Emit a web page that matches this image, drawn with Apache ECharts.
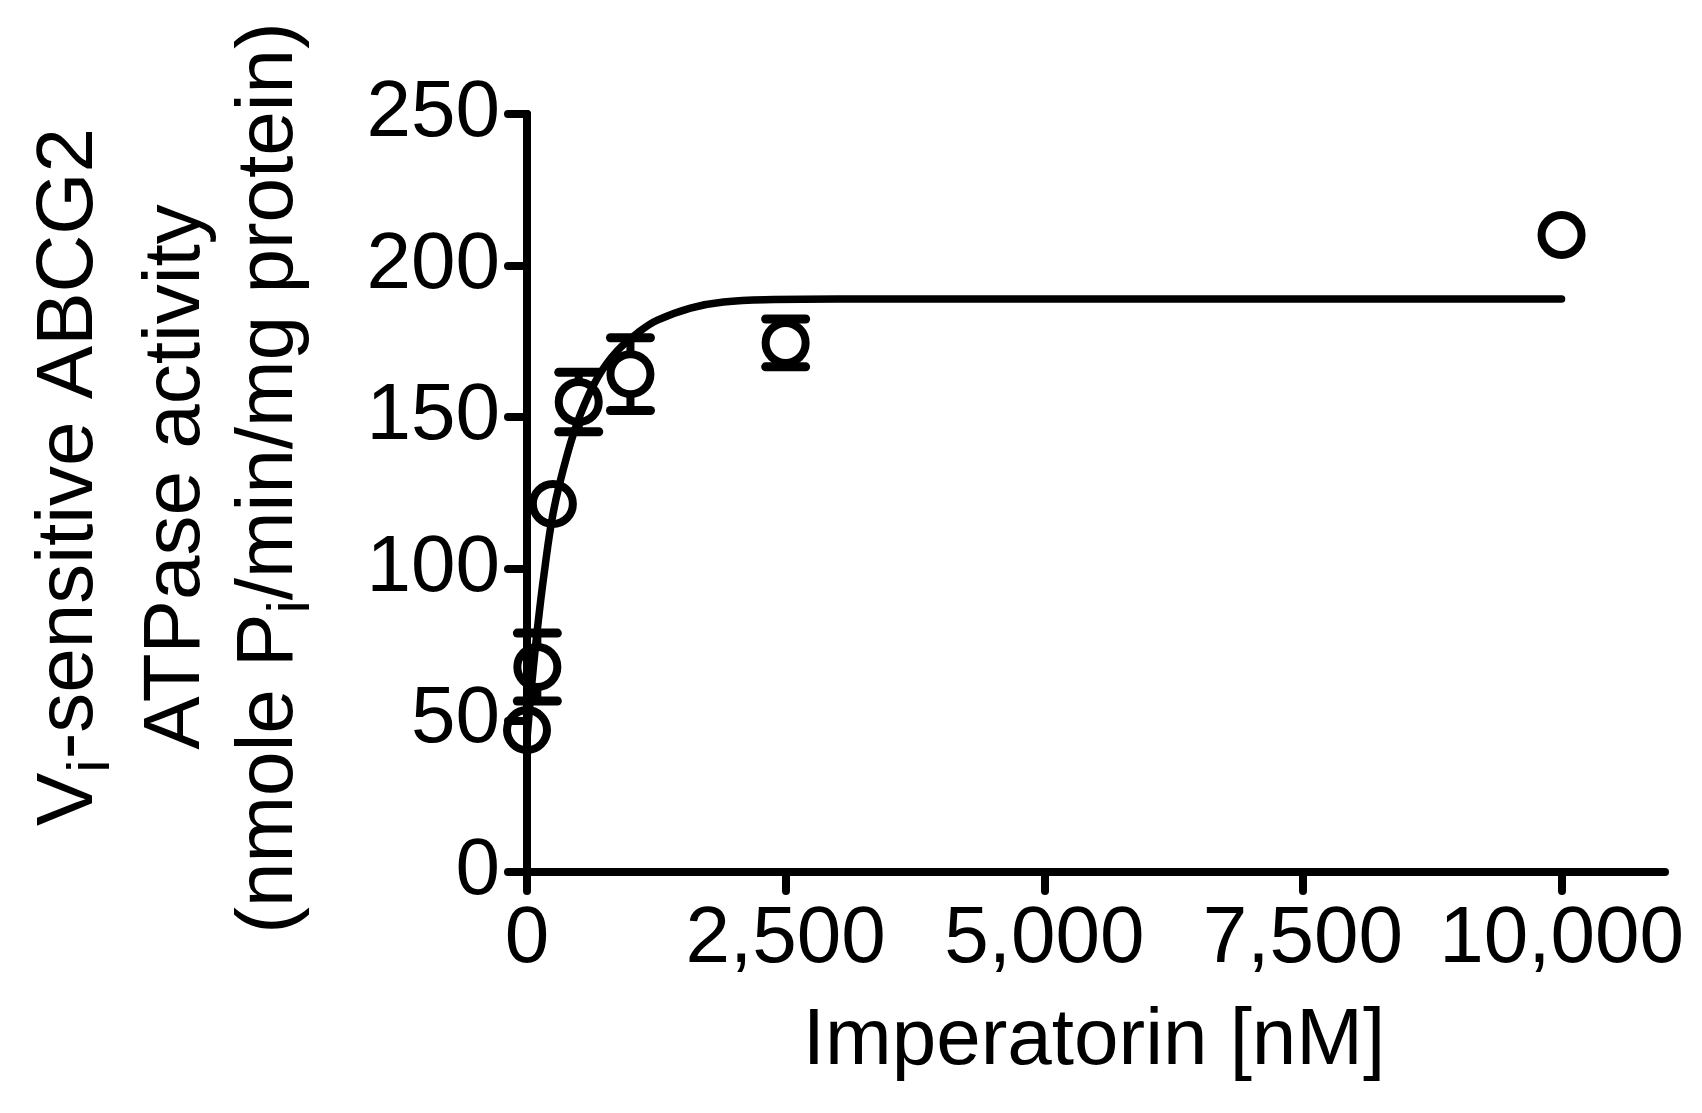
<!DOCTYPE html>
<html>
<head>
<meta charset="utf-8">
<script src="https://cdn.jsdelivr.net/npm/echarts@6/dist/echarts.min.js"></script>
<style>
html,body{margin:0;padding:0;background:#ffffff;}
#chart{width:1702px;height:1113px;}
</style>
</head>
<body>
<div id="chart"></div>
<script>
// ---- data ----
const concentrations = [0, 100, 250, 500, 1000, 2500, 10000];   // Imperatorin [nM]
const activity       = [46.8, 67.6, 121.4, 155.0, 164.2, 174.5, 210.1];
const sem            = [0, 11.2, 0, 9.8, 12.0, 7.9, 0];
// fitted curve
const fitX = [0, 30, 63, 100, 160, 256, 392, 517, 681, 875, 1097, 1261, 1580, 1900, 2384, 3000, 10000];
const fitY = [44, 56, 68, 80, 97, 119, 138, 151, 163, 172, 178.5, 182, 186, 188, 188.8, 189, 189];
const xTicks = [0, 2500, 5000, 7500, 10000];
const yTicks = [0, 50, 100, 150, 200, 250];

const FONT = '"Liberation Sans", Arial, Helvetica, sans-serif';

const points = concentrations.map((x, i) => [x, activity[i]]);
const errData = concentrations.map((x, i) => [x, activity[i], sem[i]]);
const fitData = fitX.map((x, i) => [x, fitY[i]]);

const chart = echarts.init(document.getElementById('chart'), null, {renderer: 'canvas'});

const option = {
  backgroundColor: '#ffffff',
  animation: false,
  grid: {left: 527, right: 37, top: 114, bottom: 241, containLabel: false},
  xAxis: {
    type: 'value',
    min: 0, max: 11000, interval: 2500,
    axisLine: {show: true, lineStyle: {color: '#000', width: 8, cap: 'round'}},
    axisTick: {show: true, length: 19, customValues: xTicks, lineStyle: {color: '#000', width: 8, cap: 'round'}},
    axisLabel: {
      show: true, customValues: xTicks, margin: 28,
      fontSize: 80, fontFamily: FONT, color: '#000',
      formatter: v => (xTicks.indexOf(v) >= 0 ? v.toLocaleString('en-US') : '')
    },
    splitLine: {show: false}
  },
  yAxis: {
    type: 'value',
    min: 0, max: 250, interval: 50,
    axisLine: {show: true, lineStyle: {color: '#000', width: 8, cap: 'round'}},
    axisTick: {show: true, length: 19, lineStyle: {color: '#000', width: 8, cap: 'round'}},
    axisLabel: {
      show: true, margin: 27, fontSize: 80, fontFamily: FONT, color: '#000',
      formatter: v => (yTicks.indexOf(v) >= 0 ? String(v) : '')
    },
    splitLine: {show: false}
  },
  series: [
    {
      type: 'line',
      data: fitData,
      smooth: 0.4,
      showSymbol: false,
      symbol: 'none',
      lineStyle: {color: '#000', width: 7.5, cap: 'round', join: 'round'},
      z: 3
    },
    {
      type: 'custom',
      data: errData,
      renderItem: function (params, api) {
        const x = api.value(0), m = api.value(1), e = api.value(2);
        const c = api.coord([x, m]);
        const top = api.coord([x, m + e]);
        const bot = api.coord([x, m - e]);
        const r = 24, half = 20;
        const st = {stroke: '#000', lineWidth: 8};
        const cs = {stroke: '#000', lineWidth: 9, lineCap: 'round'};
        const children = [];
        if (top[1] < c[1] - r + 2) {
          children.push({type: 'line', shape: {x1: c[0], y1: top[1], x2: c[0], y2: c[1] - r + 2}, style: st});
          children.push({type: 'line', shape: {x1: c[0] - half, y1: top[1], x2: c[0] + half, y2: top[1]}, style: cs});
        }
        if (bot[1] > c[1] + r - 2) {
          children.push({type: 'line', shape: {x1: c[0], y1: c[1] + r - 2, x2: c[0], y2: bot[1]}, style: st});
          children.push({type: 'line', shape: {x1: c[0] - half, y1: bot[1], x2: c[0] + half, y2: bot[1]}, style: cs});
        }
        return {type: 'group', children: children};
      },
      z: 4
    },
    {
      type: 'scatter',
      data: points,
      symbol: 'circle',
      symbolSize: 40,
      itemStyle: {color: 'rgba(0,0,0,0)', borderColor: '#000', borderWidth: 8, opacity: 1},
      z: 5
    }
  ],
  graphic: [
    {
      type: 'text', x: 1094, y: 1042, z: 10,
      style: {text: 'Imperatorin [nM]', fontSize: 80, fontFamily: FONT, fill: '#000', textAlign: 'center', textVerticalAlign: 'middle'}
    },
    {
      type: 'text', x: 70, y: 477, rotation: Math.PI / 2, z: 10,
      style: {
        text: '{n|V}{sub|i}{n|-sensitive ABCG2}',
        fill: '#000', fontSize: 80, fontFamily: FONT,
        textAlign: 'center', textVerticalAlign: 'middle',
        rich: {
          n: {fontSize: 80, lineHeight: 80, fontFamily: FONT, fill: '#000'},
          sub: {fontSize: 60, lineHeight: 60, fontFamily: FONT, fill: '#000', padding: [44, 0, 0, 0]}
        }
      }
    },
    {
      type: 'text', x: 177, y: 477, rotation: Math.PI / 2, z: 10,
      style: {text: 'ATPase activity', fill: '#000', fontSize: 80, fontFamily: FONT, textAlign: 'center', textVerticalAlign: 'middle'}
    },
    {
      type: 'text', x: 270, y: 478, rotation: Math.PI / 2, z: 10,
      style: {
        text: '{n|(nmole P}{sub|i}{n|/min/mg protein)}',
        fill: '#000', fontSize: 80, fontFamily: FONT,
        textAlign: 'center', textVerticalAlign: 'middle',
        rich: {
          n: {fontSize: 80, lineHeight: 80, fontFamily: FONT, fill: '#000'},
          sub: {fontSize: 60, lineHeight: 60, fontFamily: FONT, fill: '#000', padding: [44, 0, 0, 0]}
        }
      }
    }
  ]
};
chart.setOption(option);
</script>
</body>
</html>
